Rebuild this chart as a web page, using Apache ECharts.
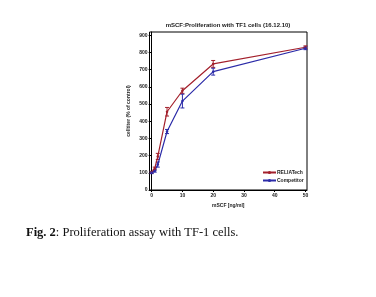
<!DOCTYPE html>
<html><head><meta charset="utf-8">
<script src="https://cdn.jsdelivr.net/npm/echarts@6/dist/echarts.min.js"></script>
<style>html,body{margin:0;padding:0;background:#fff}#c{width:376px;height:297px}</style>
</head><body><div id="c"></div>
<script>
const concentrations = [0, 1, 2, 5, 10, 20, 50];
const reliaTech = [103, 125, 195, 455, 577, 733, 830];
const reliaTechErr = [6, 8, 18, 25, 15, 20, 8];
const competitor = [100, 110, 148, 340, 517, 688, 824];
const competitorErr = [5, 6, 15, 12, 40, 20, 8];
const xTicks = [0, 10, 20, 30, 40, 50];
const yTicks = [0, 100, 200, 300, 400, 500, 600, 700, 800, 900];
const RED = '#a3202c', BLUE = '#2b2ba8';

function pts(v){ return concentrations.map((x,i)=>[x, v[i]]); }
function errData(v,e){ return concentrations.map((x,i)=>[x, v[i]-e[i], v[i]+e[i]]); }
function errSeries(v,e,color){
  return {type:'custom', data: errData(v,e), z:3, silent:true,
    renderItem(params, api){
      const x = api.value(0);
      const lo = api.coord([x, api.value(1)]);
      const hi = api.coord([x, api.value(2)]);
      const w = 2;
      const st = {stroke: color, lineWidth: 1};
      return {type:'group', children:[
        {type:'line', shape:{x1:lo[0],y1:lo[1],x2:hi[0],y2:hi[1]}, style:st},
        {type:'line', shape:{x1:lo[0]-w,y1:lo[1],x2:lo[0]+w,y2:lo[1]}, style:st},
        {type:'line', shape:{x1:hi[0]-w,y1:hi[1],x2:hi[0]+w,y2:hi[1]}, style:st}
      ]};
    }};
}
const chart = echarts.init(document.getElementById('c'), null, {renderer:'canvas'});
const tickFont = {fontSize:5, color:'#222', fontFamily:'Liberation Sans', fontWeight:'bold'};
chart.setOption({
  animation:false,
  title:[{text:'mSCF:Proliferation with TF1 cells (16.12.10)', left:228, top:22, padding:0, textAlign:'center',
    textStyle:{fontSize:6, fontWeight:'bold', color:'#222', fontFamily:'Liberation Sans'}},
    {text:'{b|Fig. 2}: Proliferation assay with TF-1 cells.', left:26, top:226, padding:0,
     textStyle:{fontSize:12.5, fontWeight:'normal', color:'#111', fontFamily:'Liberation Serif',
       rich:{b:{fontSize:12.5, fontWeight:'bold', color:'#111', fontFamily:'Liberation Serif'}}}}],
  grid:{left:149.5, top:32, width:157.5, height:158, show:true, borderColor:'#000', borderWidth:1},
  legend:{left:262, top:170, padding:0, orient:'vertical', itemGap:3, itemWidth:13, itemHeight:4,
    textStyle:{fontSize:5, fontWeight:'bold', color:'#222', fontFamily:'Liberation Sans', padding:[0,0,0,-4]},
    data:['RELIATech','Competitor']},
  xAxis:{type:'value', min:-0.7, max:50.5,
    name:'mSCF [ng/ml]', nameLocation:'middle', nameGap:12,
    nameTextStyle:{fontSize:5, fontWeight:'bold', color:'#222', fontFamily:'Liberation Sans'},
    axisLine:{lineStyle:{color:'#000', width:1}},
    axisTick:{show:true, length:2, customValues:xTicks, lineStyle:{color:'#000'}},
    axisLabel:{...tickFont, margin:3, customValues:xTicks},
    splitLine:{show:false}},
  yAxis:{type:'value', min:0, max:918.6,
    name:'celltiter (% of control)', nameLocation:'middle', nameGap:18, nameRotate:90,
    nameTextStyle:{fontSize:5, fontWeight:'bold', color:'#222', fontFamily:'Liberation Sans'},
    axisLine:{show:true, lineStyle:{color:'#000', width:1}},
    axisTick:{show:true, length:3, customValues:yTicks, lineStyle:{color:'#000'}},
    axisLabel:{...tickFont, margin:2, customValues:yTicks},
    splitLine:{show:false}},
  series:[
    {name:'RELIATech', type:'line', data:pts(reliaTech), symbol:'circle', symbolSize:2.5,
      itemStyle:{color:RED}, lineStyle:{color:RED, width:1.2}, z:4},
    {name:'Competitor', type:'line', data:pts(competitor), symbol:'circle', symbolSize:2.5,
      itemStyle:{color:BLUE}, lineStyle:{color:BLUE, width:1.2}, z:4},
    errSeries(reliaTech, reliaTechErr, RED),
    errSeries(competitor, competitorErr, BLUE)
  ]
});
</script></body></html>
